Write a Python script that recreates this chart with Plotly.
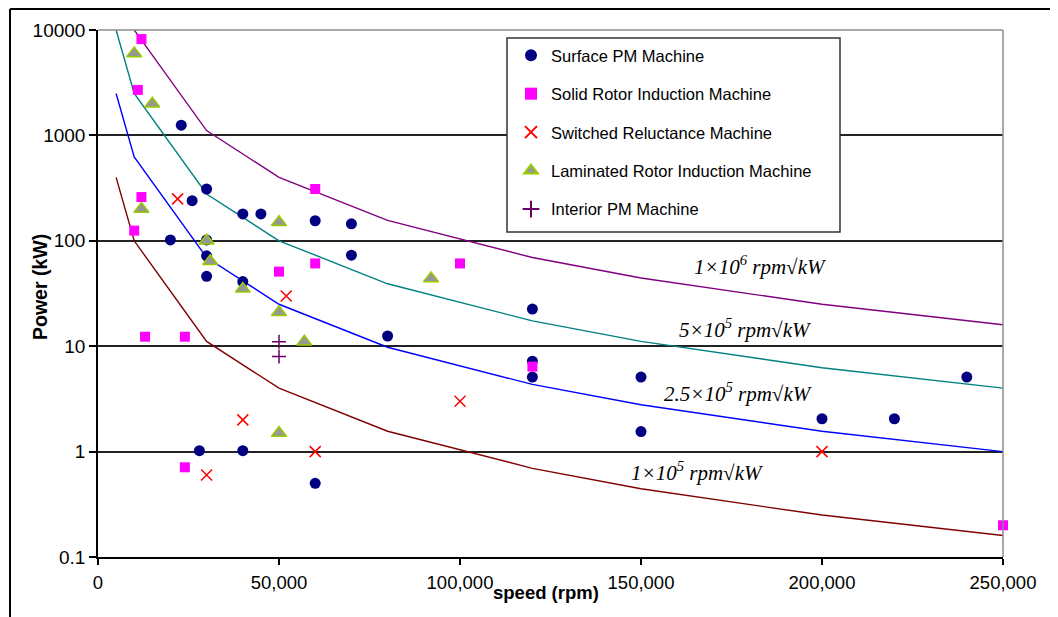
import plotly.graph_objects as go

# ---------------- data ----------------
curve_speed = [5000, 10000, 30000, 50000, 80000, 120000, 150000, 200000, 250000]
curve_1e6 = [40000, 10000, 1111, 400, 156, 69.4, 44.4, 25, 16]
curve_5e5 = [10000, 2500, 278, 100, 39.1, 17.4, 11.1, 6.25, 4]
curve_25e5 = [2500, 625, 69.4, 25, 9.77, 4.34, 2.78, 1.56, 1.0]
curve_1e5 = [400, 100, 11.1, 4, 1.56, 0.694, 0.444, 0.25, 0.16]

spm_speed = [23000, 26000, 30000, 20000, 30000, 30000, 30000, 40000, 45000, 40000,
             60000, 70000, 70000, 28000, 40000, 60000, 80000, 120000, 120000, 120000,
             150000, 150000, 200000, 220000, 240000]
spm_power = [1250, 240, 310, 102, 102, 72, 46, 180, 180, 41,
             155, 145, 73, 1.02, 1.02, 0.5, 12.5, 22.5, 7.2, 5.1,
             5.1, 1.55, 2.05, 2.05, 5.1]

srim_speed = [12000, 11000, 12000, 10000, 60000, 50000, 60000, 13000, 24000, 24000,
              100000, 120000, 250000]
srim_power = [8200, 2700, 260, 125, 310, 51, 61, 12.3, 12.3, 0.71, 61, 6.4, 0.2]

srm_speed = [22000, 52000, 40000, 30000, 60000, 100000, 200000]
srm_power = [250, 30, 2.0, 0.6, 1.0, 3.0, 1.0]

lrim_speed = [10000, 15000, 12000, 30000, 31000, 40000, 50000, 50000, 57000, 50000, 92000]
lrim_power = [6000, 2000, 200, 100, 64, 35, 150, 21, 11, 1.5, 44]

ipm_speed = [50000, 50000]
ipm_power = [11, 8]

y_tickvals = [0.1, 1, 10, 100, 1000, 10000]
y_ticktext = ["0.1", "1", "10", "100", "1000", "10000"]
x_tickvals = [0, 50000, 100000, 150000, 200000, 250000]
x_ticktext = ["0", "50,000", "100,000", "150,000", "200,000", "250,000"]

curve_labels = ["1×10<sup>6</sup> rpm√kW", "5×10<sup>5</sup> rpm√kW",
                "2.5×10<sup>5</sup> rpm√kW", "1×10<sup>5</sup> rpm√kW"]

# ---------------- figure ----------------
# page body has an 8px margin; plot area on screen spans x 98..1003, y 30..557
W, H = 1050, 609
L, R, T, B = 90, 55, 22, 60
PW, PH = W - L - R, H - T - B
SX0, SY1 = 98, 557  # screen coords of plot-area left / bottom


def px(xs):
    return (xs - SX0) / PW


def py(ys):
    return (SY1 - ys) / PH


fig = go.Figure()

for ys, col in [(curve_1e6, "#800080"), (curve_5e5, "#008080"),
                (curve_25e5, "#0000FF"), (curve_1e5, "#800000")]:
    fig.add_trace(go.Scatter(x=curve_speed, y=ys, mode="lines",
                             line=dict(color=col, width=1.4),
                             showlegend=False, hoverinfo="skip"))

fig.add_trace(go.Scatter(x=spm_speed, y=spm_power, mode="markers",
                         name="Surface PM Machine", legendgroup="a",
                         marker=dict(symbol="circle", size=11, color="#000080"),
                         cliponaxis=False))
fig.add_trace(go.Scatter(x=srim_speed, y=srim_power, mode="markers",
                         name="Solid Rotor Induction Machine", legendgroup="b",
                         marker=dict(symbol="square", size=10, color="#FF00FF"),
                         cliponaxis=False))
fig.add_trace(go.Scatter(x=srm_speed, y=srm_power, mode="markers",
                         name="Switched Reluctance Machine", legendgroup="c",
                         marker=dict(symbol="x-thin", size=11,
                                     line=dict(color="#FF0000", width=1.5)),
                         cliponaxis=False))
fig.add_trace(go.Scatter(x=lrim_speed, y=lrim_power, mode="markers",
                         name="Laminated Rotor Induction Machine", legendgroup="d",
                         marker=dict(symbol="triangle-up", size=13, color="#969696",
                                     line=dict(color="#99CC00", width=1.5)),
                         cliponaxis=False))
fig.add_trace(go.Scatter(x=ipm_speed, y=ipm_power, mode="markers",
                         name="Interior PM Machine", legendgroup="e",
                         marker=dict(symbol="cross-thin", size=10,
                                     line=dict(color="#660066", width=1.5)),
                         cliponaxis=False))

# curve annotations
ann_pos = [(760, 265), (745, 328), (738, 392), (697, 471)]
annotations = []
for txt, (ax_, ay_) in zip(curve_labels, ann_pos):
    annotations.append(dict(xref="paper", yref="paper", x=px(ax_), y=py(ay_),
                            text=txt, showarrow=False, xanchor="center", yanchor="middle",
                            font=dict(family="Liberation Serif", size=21, color="black", style="italic")))
# axis titles
annotations.append(dict(xref="paper", yref="paper", x=px(27), y=py(287),
                        text="<b>Power (kW)</b>", textangle=-90, showarrow=False,
                        font=dict(family="Liberation Sans", size=19.5, color="black")))
annotations.append(dict(xref="paper", yref="paper", x=px(546), y=py(605),
                        text="<b>speed (rpm)</b>", showarrow=False,
                        font=dict(family="Liberation Sans", size=18.5, color="black")))

shapes = [
    # outer chart frame
    dict(type="line", xref="paper", yref="paper", x0=px(10), x1=px(1070), y0=py(9), y1=py(9),
         line=dict(color="black", width=2)),
    dict(type="line", xref="paper", yref="paper", x0=px(10), x1=px(10), y0=py(9), y1=py(640),
         line=dict(color="black", width=2)),
    # plot area gray border (top/right)
    dict(type="line", xref="paper", yref="paper", x0=0, x1=1, y0=1, y1=1,
         line=dict(color="#8c8c8c", width=1.5)),
    dict(type="line", xref="paper", yref="paper", x0=1, x1=1, y0=0, y1=1,
         line=dict(color="#8c8c8c", width=1.5)),
    # legend box
    dict(type="rect", xref="paper", yref="paper", x0=px(507), x1=px(840), y0=py(232), y1=py(38),
         fillcolor="white", line=dict(color="#333333", width=1.5), layer="above"),
]

fig.update_layout(
    width=W, height=H,
    margin=dict(l=L, r=R, t=T, b=B, pad=0),
    paper_bgcolor="white", plot_bgcolor="white",
    font=dict(family="Liberation Sans", size=19, color="black"),
    showlegend=True,
    legend=dict(x=px(511), y=py(38), xanchor="left", yanchor="top",
                bgcolor="rgba(0,0,0,0)", borderwidth=0,
                font=dict(family="Liberation Sans", size=16.5, color="black"),
                traceorder="grouped", tracegroupgap=14, itemsizing="constant"),
    annotations=annotations,
    shapes=shapes,
    xaxis=dict(range=[0, 250000], tickvals=x_tickvals, ticktext=x_ticktext,
               showgrid=False, zeroline=False, showline=True, linecolor="black", linewidth=1.5,
               ticks="outside", ticklen=6, tickcolor="black", tickwidth=1.5,
               ticklabelstandoff=2, tickfont=dict(size=18.5)),
    yaxis=dict(type="log", range=[-1, 4], tickvals=y_tickvals, ticktext=y_ticktext,
               showgrid=True, gridcolor="#222222", gridwidth=1.5, zeroline=False,
               showline=True, linecolor="black", linewidth=1.5,
               ticks="outside", ticklen=7, tickcolor="black", tickwidth=1.5,
               ticklabelstandoff=0, tickfont=dict(size=19)),
)

fig.write_html("out.html")
